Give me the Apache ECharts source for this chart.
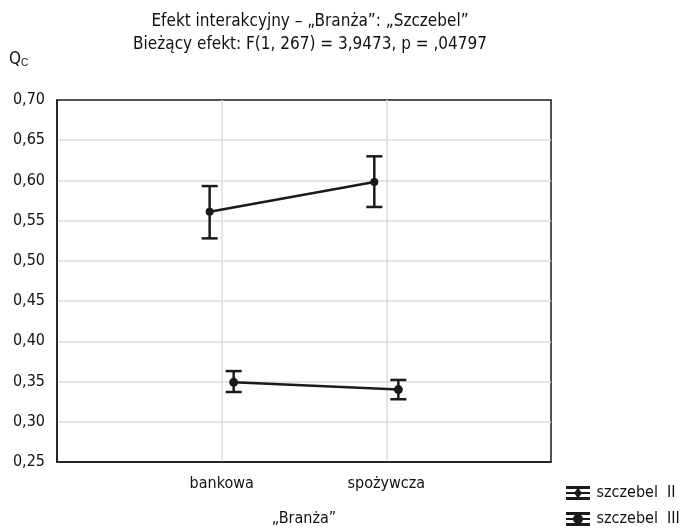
<!DOCTYPE html>
<html>
<head>
<meta charset="utf-8">
<script src="https://cdn.jsdelivr.net/npm/echarts@6/dist/echarts.min.js"></script>
<style>
  html, body { margin: 0; padding: 0; background: #fff; }
  #chart { width: 692px; height: 528px; }
</style>
</head>
<body>
<div id="chart"></div>
<script>
// categories on the x axis ("Branża")
const categories = ['bankowa', 'spożywcza'];
// groups ("Szczebel")
const groups = ['szczebel  II', 'szczebel  III'];
// means per group, one value per category
const means = [
    [0.561, 0.598],
    [0.349, 0.340]
];
// lower / upper ends of the error bars
const lower = [
    [0.528, 0.567],
    [0.337, 0.328]
];
const upper = [
    [0.593, 0.630],
    [0.363, 0.352]
];
const yTicks = [0.25, 0.30, 0.35, 0.40, 0.45, 0.50, 0.55, 0.60, 0.65, 0.70];

const font = "'Liberation Sans Narrow', 'DejaVu Sans Condensed', 'Noto Sans', sans-serif";
const ink = '#1a1a1a';
const dodge = [-0.073, 0.073]; // small horizontal shift so the groups don't overlap

// legend icons: error bar with line + marker
const iconII = 'path://M0,0H24V3H0Z M0,11H24V14H0Z M10.5,0H13.5V14H10.5Z M0,6H24V8H0Z M12,2.5L16.5,7L12,11.5L7.5,7Z';
const iconIII = 'path://M0,0H24V3H0Z M0,11H24V14H0Z M10.5,0H13.5V14H10.5Z M0,6H24V8H0Z M7,7a5,5 0 1,1 10,0a5,5 0 1,1 -10,0Z';
const icons = [iconII, iconIII];
const symbolSizes = [8, 9];

const series = [];
groups.forEach((g, gi) => {
    series.push({
        name: g,
        type: 'line',
        data: categories.map((c, ci) => [ci + 1 + dodge[gi], means[gi][ci]]),
        symbol: 'circle',
        symbolSize: symbolSizes[gi],
        lineStyle: { color: ink, width: 2.5 },
        itemStyle: { color: ink },
        z: 3
    });
    series.push({
        name: g + ' err',
        type: 'custom',
        data: categories.map((c, ci) => [ci + 1 + dodge[gi], lower[gi][ci], upper[gi][ci]]),
        renderItem: (params, api) => {
            const lo = api.coord([api.value(0), api.value(1)]);
            const hi = api.coord([api.value(0), api.value(2)]);
            const w = 8;
            const st = { stroke: ink, lineWidth: 2.5 };
            return {
                type: 'group',
                children: [
                    { type: 'line', shape: { x1: lo[0], y1: lo[1], x2: hi[0], y2: hi[1] }, style: st },
                    { type: 'line', shape: { x1: lo[0] - w, y1: lo[1], x2: lo[0] + w, y2: lo[1] }, style: st },
                    { type: 'line', shape: { x1: hi[0] - w, y1: hi[1], x2: hi[0] + w, y2: hi[1] }, style: st }
                ]
            };
        },
        z: 2
    });
});

const chart = echarts.init(document.getElementById('chart'));
chart.setOption({
    animation: false,
    textStyle: { fontFamily: font, color: '#111' },
    title: {
        text: 'Efekt interakcyjny – „Branża”: „Szczebel”\nBieżący efekt: F(1, 267) = 3,9473, p = ,04797',
        left: 305,
        top: 5,
        textAlign: 'center',
        textStyle: { fontFamily: font, fontSize: 17, fontWeight: 'normal', color: '#111', lineHeight: 23 }
    },
    legend: {
        data: groups.map((g, gi) => ({ name: g, icon: icons[gi] })),
        orient: 'vertical',
        left: 566,
        top: 485,
        height: 80,
        itemWidth: 25,
        itemHeight: 14,
        itemGap: 10,
        padding: 0,
        textStyle: { fontFamily: font, fontSize: 16, color: '#111', padding: [0, 0, 0, 1] }
    },
    graphic: [{
        type: 'text',
        left: 9,
        top: 51,
        style: {
            text: 'Q{s|C}',
            font: '17px ' + font,
            fill: '#111',
            rich: { s: { fontSize: 10, verticalAlign: 'bottom', padding: [8, 0, 0, 0] } }
        }
    }],
    grid: {
        left: 57,
        right: 141,
        top: 100,
        bottom: 66,
        outerBoundsMode: 'none',
        show: true,
        borderColor: ink,
        borderWidth: 1.5
    },
    xAxis: {
        type: 'value',
        min: 0,
        max: categories.length + 1,
        interval: 1,
        name: '„Branża”',
        nameLocation: 'middle',
        nameGap: 49,
        nameTextStyle: { fontFamily: font, fontSize: 16, color: '#111' },
        axisLine: { lineStyle: { color: ink, width: 1.5 } },
        axisTick: { show: false },
        axisLabel: {
            fontFamily: font, fontSize: 16, color: '#111', margin: 14,
            formatter: v => categories[v - 1] || ''
        },
        splitLine: { show: true, showMinLine: false, showMaxLine: false, lineStyle: { color: '#dcdcdc', width: 1.5 } }
    },
    yAxis: {
        type: 'value',
        min: yTicks[0],
        max: yTicks[yTicks.length - 1],
        interval: 0.05,
        axisLine: { show: true, lineStyle: { color: ink, width: 1.5 } },
        axisTick: { show: false },
        axisLabel: {
            fontFamily: font, fontSize: 16, color: '#111', margin: 12,
            formatter: v => v.toFixed(2).replace('.', ',')
        },
        splitLine: { show: true, showMinLine: false, showMaxLine: false, lineStyle: { color: '#dcdcdc', width: 1.5 } }
    },
    series: series
});
</script>
</body>
</html>
